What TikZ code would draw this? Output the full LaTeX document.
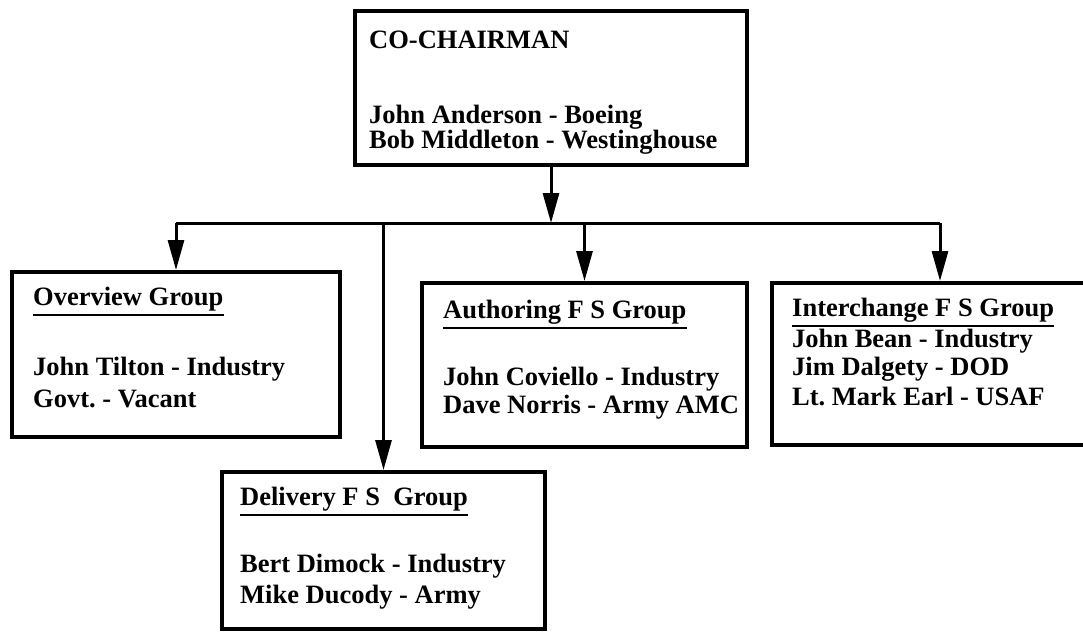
\documentclass[tikz,border=0pt]{standalone}
\usepackage{fontspec}
\setmainfont{Liberation Serif}
\usetikzlibrary{arrows.meta}
\begin{document}
\frenchspacing
\begin{tikzpicture}[x=1pt,y=-1pt,
  box/.style={draw, line width=4pt, inner sep=0pt},
  conn/.style={line width=3pt},
  arr/.style={conn, -{Triangle[length=30pt,width=16pt]}},
  txt/.style={anchor=base west, inner sep=0pt, font=\fontsize{26.5}{28}\selectfont\bfseries},
  uline/.style={line width=2pt}]
\useasboundingbox (0,0) rectangle (1083,632);
\clip (0,0) rectangle (1083,632);
% boxes
\node[box, minimum width=392pt, minimum height=154pt] (top) at (551,88) {};
\node[box, minimum width=328pt, minimum height=165pt] (ov) at (176,354.5) {};
\node[box, minimum width=325pt, minimum height=164pt] (auth) at (584.5,365) {};
\node[box, minimum width=328pt, minimum height=162pt] (ichg) at (936,364) {};
\node[box, minimum width=323pt, minimum height=157pt] (del) at (383.5,550.5) {};
% bus
\coordinate (busL) at (176,223);
\coordinate (busR) at (940,223);
\draw[arr] (top.south) -- (top.south |- busL);
\draw[conn] (busL) -- (busR);
\draw[arr] (ov.north |- busL) -- (ov.north);
\draw[arr] (del.north |- busL) -- (del.north);
\draw[arr] (auth.north |- busL) -- (auth.north);
\draw[arr] (busR) -- (ichg.north -| busR);
% top box text
\node[txt] (t1) at (369,48) {CO-CHAIRMAN};
\node[txt] (t2) at (369,123) {John Anderson - Boeing};
\node[txt] (t3) at (369,148) {Bob Middleton - Westinghouse};
% overview
\node[txt] (o1) at (33,305) {Overview Group};
\draw[uline] ([yshift=-10pt]o1.base west) -- ([yshift=-10pt]o1.base east);
\node[txt] (o2) at (33,375) {John Tilton - Industry};
\node[txt] (o3) at (33,407) {Govt. - Vacant};
% authoring
\node[txt] (a1) at (443,318) {Authoring F S Group};
\draw[uline] ([yshift=-10pt]a1.base west) -- ([yshift=-10pt]a1.base east);
\node[txt] (a2) at (443,385) {John Coviello - Industry};
\node[txt] (a3) at (443,413) {Dave Norris - Army AMC};
% interchange
\node[txt] (i1) at (792,316) {Interchange F S Group};
\draw[uline] ([yshift=-10pt]i1.base west) -- ([yshift=-10pt]i1.base east);
\node[txt] (i2) at (792,347) {John Bean - Industry};
\node[txt] (i3) at (792,375) {Jim Dalgety - DOD};
\node[txt] (i4) at (792,405) {Lt. Mark Earl - USAF};
% delivery
\node[txt] (d1) at (240,505) {Delivery F S\ \ Group};
\draw[uline] ([yshift=-10pt]d1.base west) -- ([yshift=-10pt]d1.base east);
\node[txt] (d2) at (240,572) {Bert Dimock - Industry};
\node[txt] (d3) at (240,603) {Mike Ducody - Army};
\end{tikzpicture}
\end{document}
